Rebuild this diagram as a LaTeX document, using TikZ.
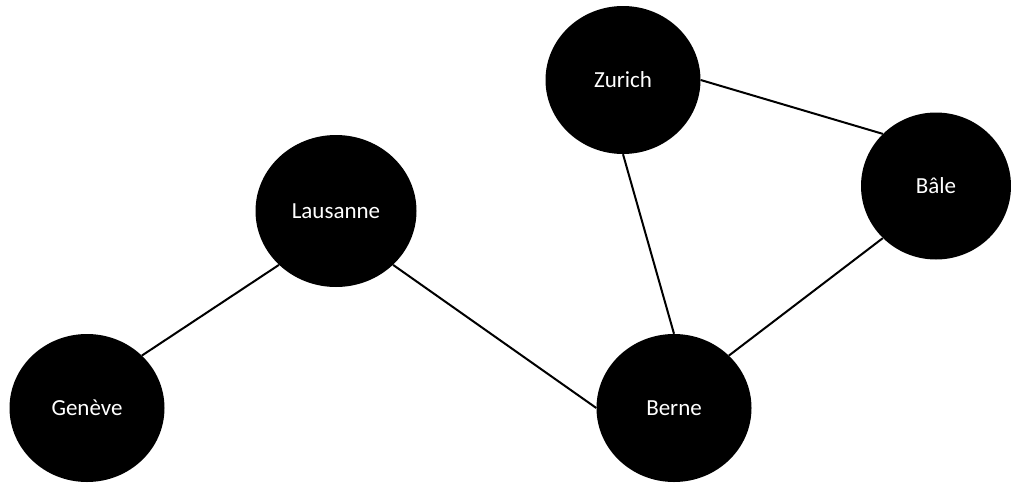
\documentclass[tikz,border=0pt]{standalone}
\usepackage{fontspec}
\setmainfont{Carlito}
\usetikzlibrary{shapes.geometric}
\begin{document}
\begin{tikzpicture}[x=1pt,y=-1pt,
  city/.style={ellipse,fill=black,draw=none,inner sep=0pt,
    text=white,font=\fontsize{23}{27}\selectfont,
    minimum width=155pt,minimum height=148pt},
  link/.style={line width=2pt,black}]
  \useasboundingbox (0,0) rectangle (1011,482);
  % cities
  \node[city] (zurich) at (623,80) {Zurich};
  \node[city,minimum width=161pt,minimum height=152pt] (lausanne) at (336,211) {Lausanne};
  \node[city,minimum width=150pt,minimum height=147pt] (bale) at (936,186) {Bâle};
  \node[city] (geneve) at (87,408) {Genève};
  \node[city] (berne) at (674,408) {Berne};
  % links between cities
  \draw[link] (geneve.north east) -- (lausanne.south west);
  \draw[link] (lausanne.south east) -- (berne.west);
  \draw[link] (zurich.south) -- (berne.north);
  \draw[link] (zurich.east) -- (bale.north west);
  \draw[link] (bale.south west) -- (berne.north east);
\end{tikzpicture}
\end{document}
